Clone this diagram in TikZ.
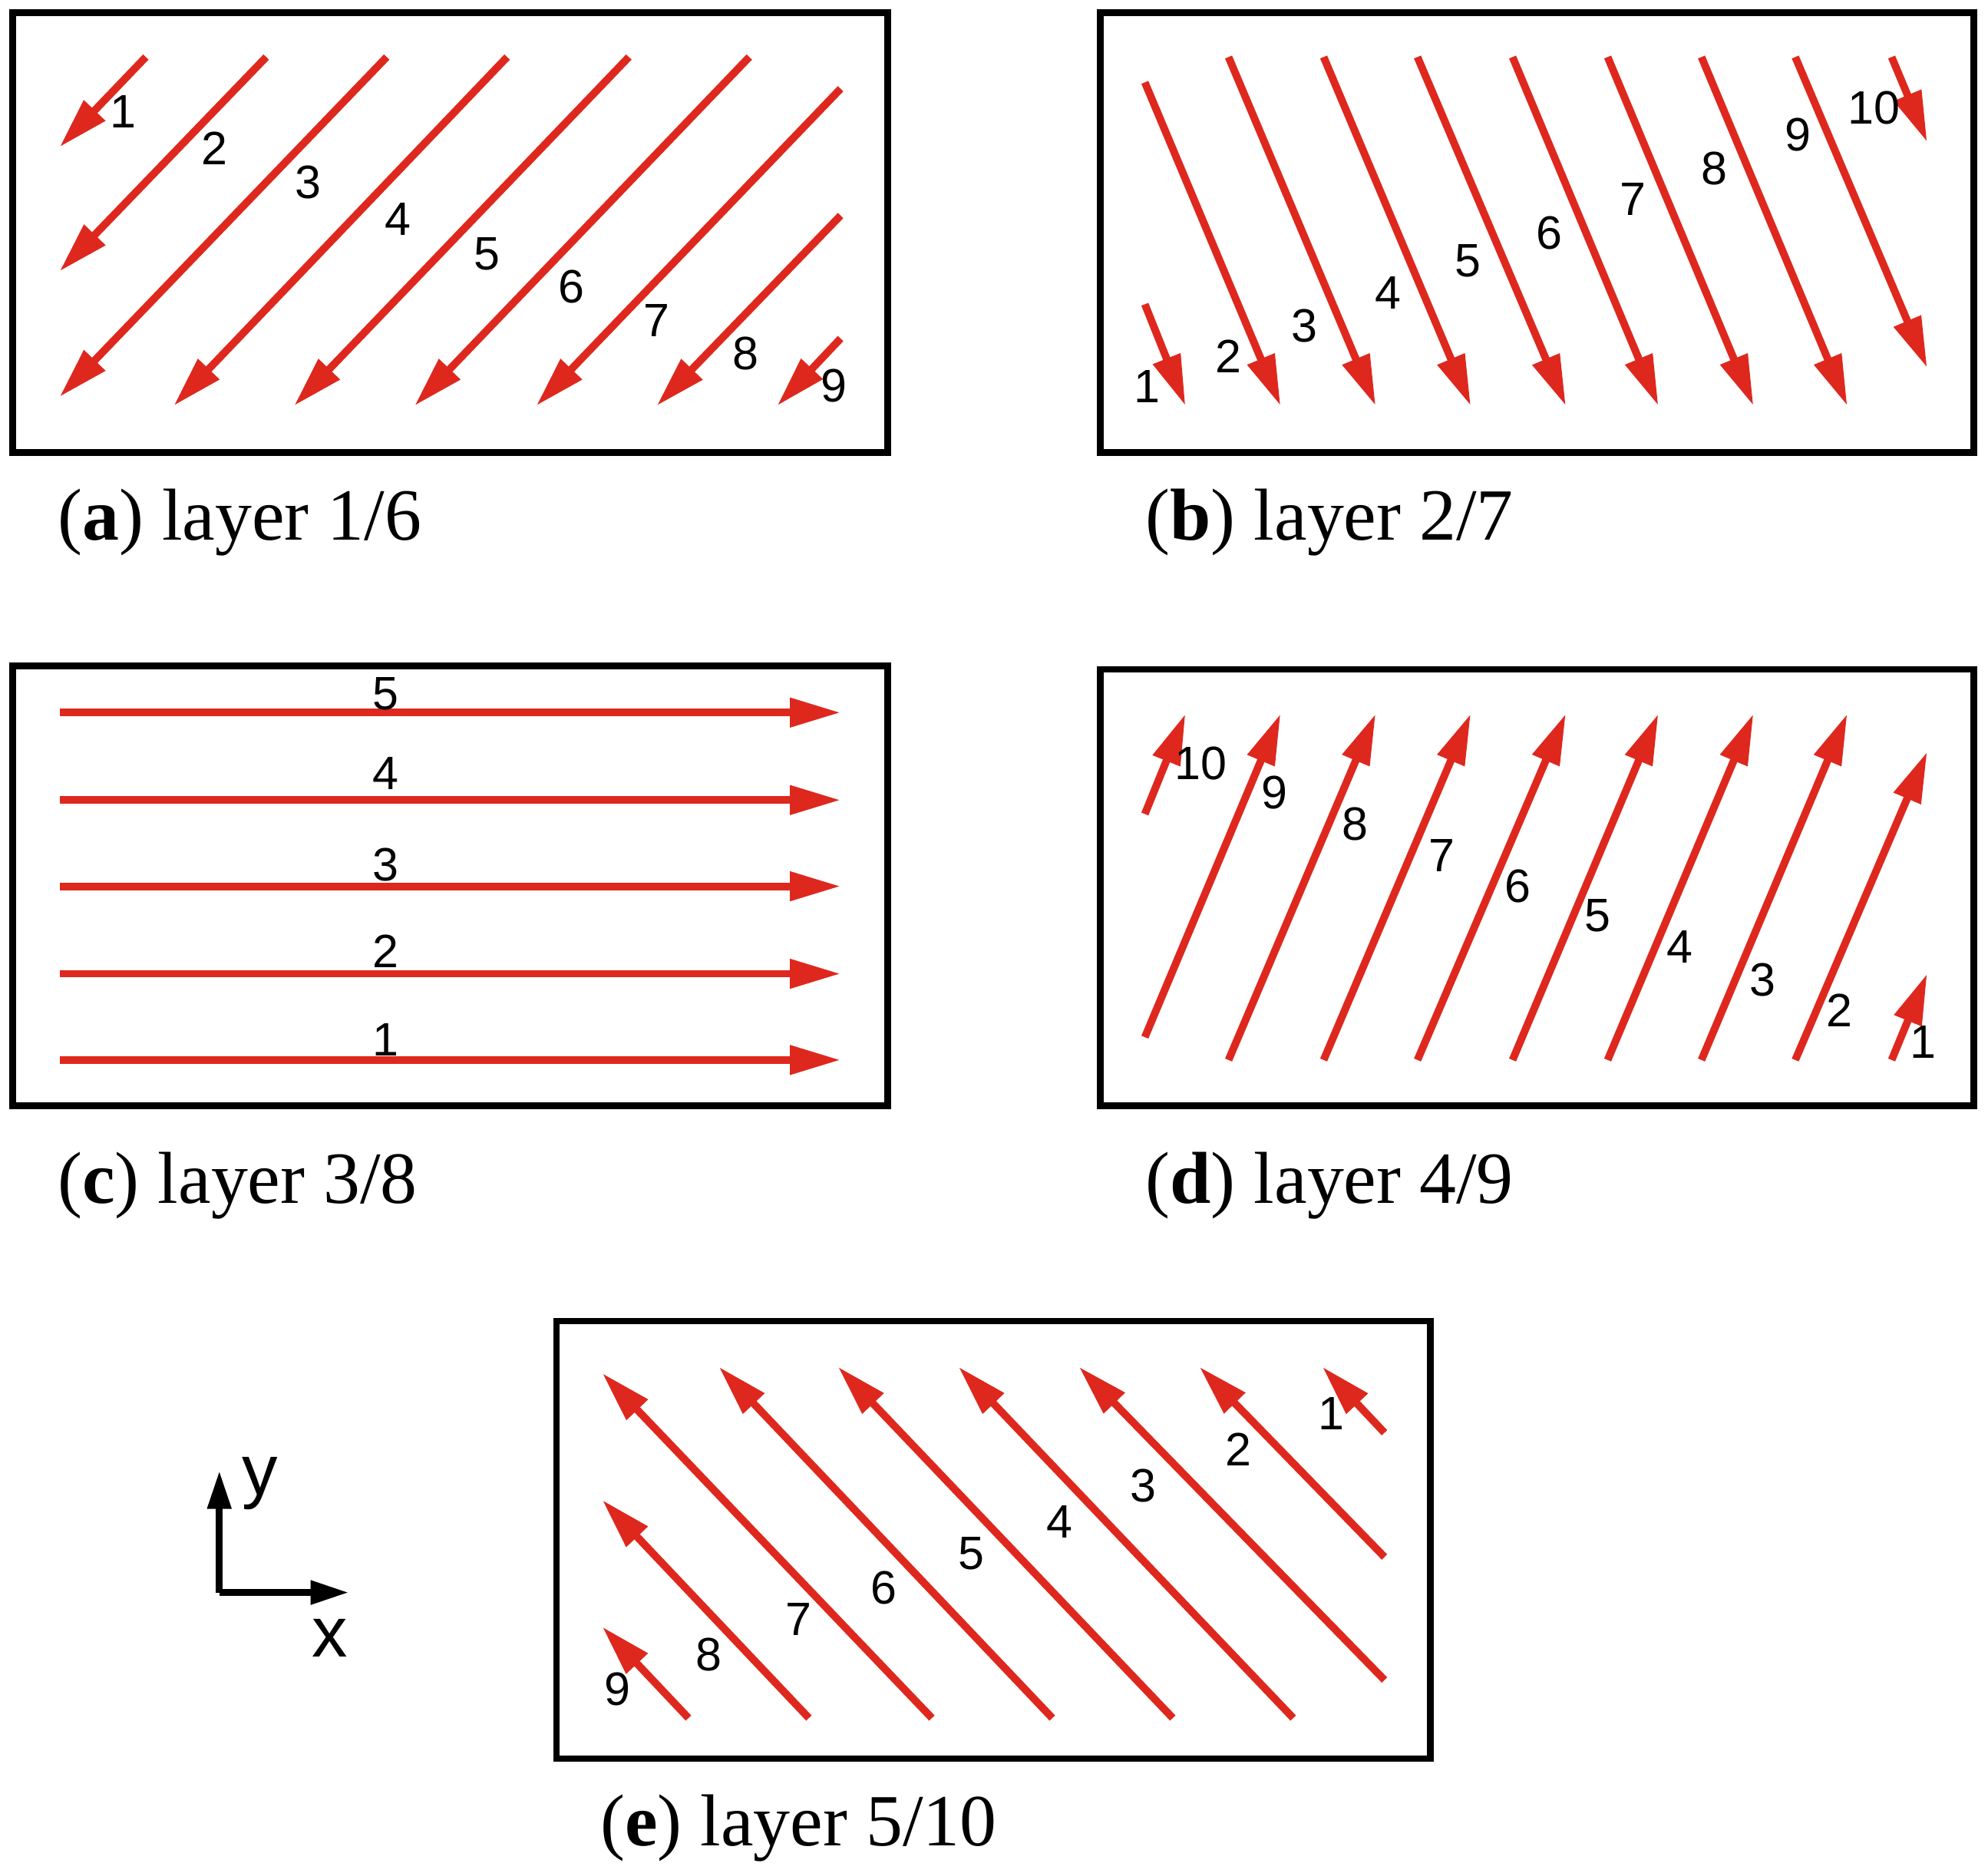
\documentclass[tikz,border=0pt]{standalone}
\usepackage{fontspec}
\newfontfamily\numfont{Liberation Sans}
\newfontfamily\capfont{Liberation Serif}
\usetikzlibrary{arrows.meta}
\definecolor{pathred}{RGB}{222,40,30}
\tikzset{
  pth/.style={draw=pathred,line width=1.7pt,-{Triangle[length=0.4cm,width=0.22cm]}},
  frame/.style={draw=black,line width=1.5pt},
  num/.style={font=\numfont\fontsize{10.5}{12}\selectfont,inner sep=0pt},
  captext/.style={font=\capfont\fontsize{16.5}{20}\selectfont,anchor=west,inner sep=0pt},
}
\begin{document}
\begin{tikzpicture}[x=0.01cm,y=-0.01cm]
\useasboundingbox (0,0) rectangle (1568,1477);
% panel a
\draw[frame] (10,10) rectangle (700,357);
\foreach \i/\ax/\ay/\bx/\by/\lx/\ly in {1/115/45/47/116/97/88,2/210/45/47/214/169/117,3/305/45/47/313/243/144,4/400/45/137/320/314/173,5/496/45/232/320/384/200,6/591/45/327/320/451/226,7/663/70/423/320/518/253,8/663/170/518/320/588/279,9/663/267/613/320/658/304}{
  \coordinate (a\i s) at (\ax,\ay); \coordinate (a\i e) at (\bx,\by);
  \draw[pth] (a\i s) -- (a\i e);
  \node[num] (a\i l) at (\lx,\ly) {\i};}
\node[captext] (capa) at (45,412) {(\textbf{a}) layer 1/6};
% panel b
\draw[frame] (868,10) rectangle (1557,357);
\foreach \i/\ax/\ay/\bx/\by/\lx/\ly in {1/903/240/935/320/905/305,2/903/65/1010/320/969/281,3/969/45/1085/320/1029/257,4/1044/45/1160/320/1095/231,5/1118/45/1235/320/1158/206,6/1193/45/1308/320/1222/184,7/1268/45/1383/320/1288/157,8/1342/45/1457/320/1352/133,9/1416/45/1520/290/1418/106,10/1492/45/1520/112/1478/85}{
  \coordinate (b\i s) at (\ax,\ay); \coordinate (b\i e) at (\bx,\by);
  \draw[pth] (b\i s) -- (b\i e);
  \node[num] (b\i l) at (\lx,\ly) {\i};}
\node[captext] (capb) at (903,412) {(\textbf{b}) layer 2/7};
% panel c
\draw[frame] (10,525) rectangle (700,872);
\foreach \i/\y/\ly in {5/562/547,4/631/610,3/699/682,2/768/750,1/836/820}{
  \coordinate (c\i s) at (47,\y); \coordinate (c\i e) at (663,\y);
  \draw[pth] (c\i s) -- (c\i e);
  \node[num] (c\i l) at (304,\ly) {\i};}
\node[captext] (capc) at (45,935) {(\textbf{c}) layer 3/8};
% panel d
\draw[frame] (868,528) rectangle (1557,872);
\foreach \i/\ax/\ay/\bx/\by/\lx/\ly in {10/903/642/935/563/947/602,9/903/818/1010/563/1005/625,8/969/836/1085/563/1069/650,7/1044/836/1160/563/1137/675,6/1118/836/1235/563/1197/699,5/1193/836/1308/563/1260/722,4/1268/836/1383/563/1325/747,3/1342/836/1457/563/1390/773,2/1416/836/1520/593/1451/797,1/1492/836/1520/768/1517/822}{
  \coordinate (d\i s) at (\ax,\ay); \coordinate (d\i e) at (\bx,\by);
  \draw[pth] (d\i s) -- (d\i e);
  \node[num] (d\i l) at (\lx,\ly) {\i};}
\node[captext] (capd) at (903,935) {(\textbf{d}) layer 4/9};
% panel e
\draw[frame] (439,1042) rectangle (1128,1387);
\foreach \i/\ax/\ay/\bx/\by/\lx/\ly in {1/1092/1130/1043/1078/1050/1115,2/1092/1228/946/1078/977/1143,3/1092/1325/851/1078/902/1172,4/1020/1355/756/1078/836/1200,5/925/1355/661/1078/766/1225,6/830/1355/567/1078/697/1252,7/735/1355/475/1083/630/1277,8/638/1355/475/1183/559/1305,9/543/1355/475/1283/487/1332}{
  \coordinate (e\i s) at (\ax,\ay); \coordinate (e\i e) at (\bx,\by);
  \draw[pth] (e\i s) -- (e\i e);
  \node[num] (e\i l) at (\lx,\ly) {\i};}
\node[captext] (cape) at (473,1442) {(\textbf{e}) layer 5/10};
% axes
\coordinate (o) at (173,1256);
\coordinate (yend) at (173,1160);
\coordinate (xend) at (275,1256);
\draw[line width=1.5pt,-{Triangle[length=0.3cm,width=0.18cm]}] (o) -- (yend);
\draw[line width=1.5pt,-{Triangle[length=0.3cm,width=0.18cm]}] (o) -- (xend);
\node[font=\numfont\fontsize{16}{18}\selectfont] (ylab) at (205,1170) {y};
\node[font=\numfont\fontsize{16}{18}\selectfont] (xlab) at (260,1292) {x};
\end{tikzpicture}
\end{document}
